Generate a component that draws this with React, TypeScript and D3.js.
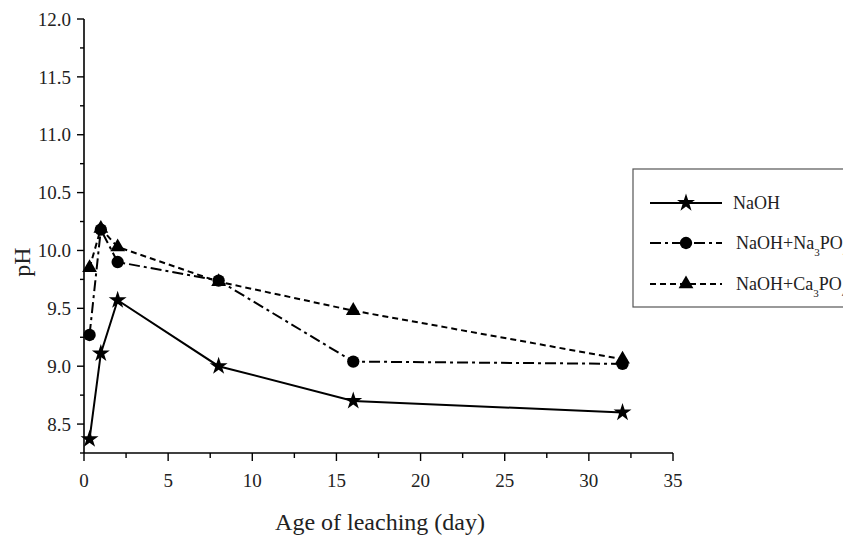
import React from "react";
import * as d3 from "d3";

// Leaching age (days) and measured pH for each activator
const days = [0.33, 1, 2, 8, 16, 32];
const phNaOH = [8.37, 9.11, 9.57, 9.0, 8.7, 8.6];
const phNa3PO4 = [9.27, 10.18, 9.9, 9.74, 9.04, 9.02];
const phCa3PO4 = [9.85, 10.19, 10.03, 9.73, 9.48, 9.06];

const xTicks = [0, 5, 10, 15, 20, 25, 30, 35];
const yTicks = [8.5, 9.0, 9.5, 10.0, 10.5, 11.0, 11.5, 12.0];

const W = 843;
const H = 536;
const FONT = '"Liberation Serif", "Times New Roman", Times, serif';
const TXT = { fontFamily: FONT };

const x = d3.scaleLinear().domain([0, 35]).range([84, 673]);
const y = d3.scaleLinear().domain([8.25, 12]).range([453, 19]);

type Series = {
  name: string;
  values: number[];
  dash: string;
  symbol: d3.SymbolType;
  size: number;
};

const series: Series[] = [
  { name: "NaOH", values: phNaOH, dash: "none", symbol: d3.symbolStar, size: 100 },
  { name: "NaOH+Na3PO4", values: phNa3PO4, dash: "11,4,3,4", symbol: d3.symbolCircle, size: 120 },
  { name: "NaOH+Ca3PO4", values: phCa3PO4, dash: "6,4", symbol: d3.symbolTriangle, size: 95 },
];

const line = d3
  .line<[number, number]>()
  .x((d) => x(d[0]))
  .y((d) => y(d[1]));

function LegendLabel({ name }: { name: string }) {
  // Render chemical formula digits as subscripts
  const parts = name.split(/(\d)/).filter((p) => p.length > 0);
  let sub = false;
  return (
    <>
      {parts.map((p, i) => {
        const isDigit = /\d/.test(p);
        const dy = isDigit && !sub ? 7 : !isDigit && sub ? -7 : 0;
        sub = isDigit;
        return (
          <tspan key={i} dy={dy} fontSize={isDigit ? 11 : 18}>
            {p}
          </tspan>
        );
      })}
    </>
  );
}

export default function App() {
  const minorX = d3.range(0, 35, 2.5).filter((v) => v % 5 !== 0);
  const minorY = d3.range(8.25, 12, 0.25).filter((v) => Math.abs((v * 2) % 1) > 0.01);

  const legendRows = [203, 243, 284];

  return (
    <svg
      width={W}
      height={H}
      style={{ position: "fixed", left: 0, top: 0, background: "#fff" }}
    >
      <rect width={W} height={H} fill="#fff" />

      {/* axes */}
      <line x1={84} x2={84} y1={y(12)} y2={453} stroke="#000" strokeWidth={1.6} />
      <line x1={84} x2={673} y1={453} y2={453} stroke="#000" strokeWidth={1.6} />

      {yTicks.map((t) => (
        <g key={`y${t}`}>
          <line x1={77} x2={84} y1={y(t)} y2={y(t)} stroke="#000" strokeWidth={1.4} />
          <text
            x={71}
            y={y(t)}
            dy="0.35em"
            textAnchor="end"
            fontSize={19}
            fill="#222"
            style={TXT}
          >
            {t.toFixed(1)}
          </text>
        </g>
      ))}
      {minorY.map((t) => (
        <line key={`my${t}`} x1={80} x2={84} y1={y(t)} y2={y(t)} stroke="#000" strokeWidth={1.4} />
      ))}

      {xTicks.map((t) => (
        <g key={`x${t}`}>
          <line x1={x(t)} x2={x(t)} y1={453} y2={461} stroke="#000" strokeWidth={1.4} />
          <text x={x(t)} y={480} dy="0.35em" textAnchor="middle" fontSize={19} fill="#222" style={TXT}>
            {t}
          </text>
        </g>
      ))}
      {minorX.map((t) => (
        <line key={`mx${t}`} x1={x(t)} x2={x(t)} y1={453} y2={458} stroke="#000" strokeWidth={1.4} />
      ))}

      <text x={380} y={522} dy="0.35em" textAnchor="middle" fontSize={24} fill="#222" style={TXT}>
        Age of leaching (day)
      </text>
      <text
        transform="translate(22,262) rotate(-90)"
        dy="0.35em"
        textAnchor="middle"
        fontSize={24}
        fill="#222"
        style={TXT}
      >
        pH
      </text>

      {/* series */}
      {series.map((s) => {
        const pts = days.map((d, i) => [d, s.values[i]] as [number, number]);
        return (
          <g key={s.name}>
            <path
              d={line(pts) || ""}
              fill="none"
              stroke="#000"
              strokeWidth={2}
              strokeDasharray={s.dash}
            />
            {pts.map((p, i) => (
              <path
                key={i}
                d={d3.symbol().type(s.symbol).size(s.size)() || ""}
                transform={`translate(${x(p[0])},${y(p[1])})`}
                fill="#000"
              />
            ))}
          </g>
        );
      })}

      {/* legend */}
      <rect x={633} y={169} width={230} height={138} fill="#fff" stroke="#555" strokeWidth={1.2} />
      {series.map((s, i) => {
        const ly = legendRows[i];
        return (
          <g key={`lg${s.name}`}>
            <line x1={650} x2={722} y1={ly} y2={ly} stroke="#000" strokeWidth={2} strokeDasharray={s.dash} />
            <path
              d={d3.symbol().type(s.symbol).size(s.size)() || ""}
              transform={`translate(686,${ly})`}
              fill="#000"
            />
            <text x={i === 0 ? 733 : 736} y={ly + 6} fill="#222" style={TXT}>
              <LegendLabel name={s.name} />
            </text>
          </g>
        );
      })}
    </svg>
  );
}
